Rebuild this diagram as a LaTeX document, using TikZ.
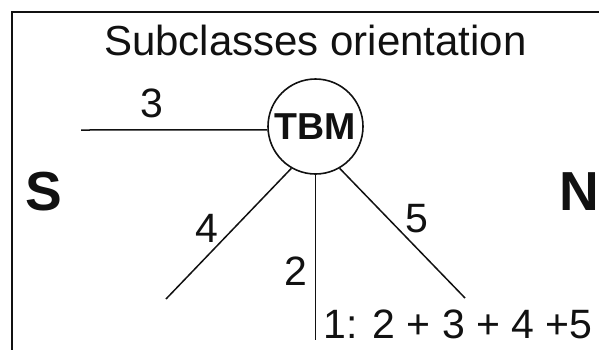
\documentclass[tikz,border=0pt]{standalone}
\usepackage{fontspec}
\setmainfont{Liberation Sans}
\usetikzlibrary{calc}
\definecolor{ink}{HTML}{111111}
\tikzset{
  boxedge/.style={draw=ink,line width=1.6pt,line cap=rect},
  hub/.style={circle,draw=ink,fill=white,line width=1.6pt,inner sep=0pt,minimum size=95pt,font=\fontsize{37.5}{40}\selectfont\bfseries,text=ink},
  branch/.style={draw=ink,line width=1.5pt},
  numlabel/.style={inner sep=0pt,font=\fontsize{41}{44}\selectfont,text=ink},
  heading/.style={inner sep=0pt,font=\fontsize{42}{46}\selectfont,text=ink},
  pole/.style={inner sep=0pt,font=\fontsize{55}{58}\selectfont\bfseries,text=ink},
}
\begin{document}
\begin{tikzpicture}[x=1pt,y=-1pt]
\useasboundingbox (0,0) rectangle (599,349);
\coordinate (f1) at (12,349);
\coordinate (f2) at (12,12);
\coordinate (f3) at (599,12);
\draw[boxedge] (f1) -- (f2) -- (f3);
\node[heading,anchor=base] (title) at (315.5,55) {Subclasses orientation};
\node[hub] (tbm) at (315.5,126.5) {TBM};
\coordinate (e3) at (81,130);
\coordinate (e4) at (166,299);
\coordinate (e2) at (315.5,340);
\coordinate (e5) at (465,298);
\draw[branch] (e3) -- (tbm.184);
\draw[branch] (tbm.240) -- (e4);
\draw[branch] (tbm.south) -- (e2);
\draw[branch] (tbm.300) -- (e5);
\node[numlabel] (l3) at (152,103) {3};
\node[numlabel] (l4) at (207,228) {4};
\node[numlabel] (l2) at (296,271) {2};
\node[numlabel] (l5) at (417,219) {5};
\node[numlabel,anchor=base west] (total) at (323,338) {1: 2 + 3 + 4 +5};
\node[pole,anchor=base] (south) at (44,210) {S};
\node[pole,anchor=base east] (north) at (599,210) {N};
\end{tikzpicture}
\end{document}
